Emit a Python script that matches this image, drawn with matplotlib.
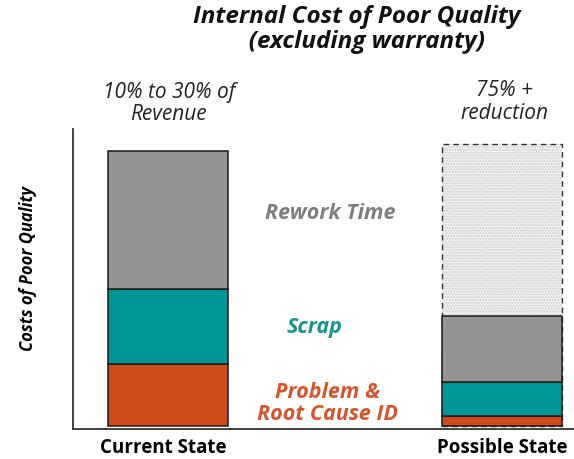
import numpy as np
import matplotlib
matplotlib.use("Agg")
import matplotlib.pyplot as plt
import matplotlib.transforms as mtransforms

plt.rcParams['font.family'] = ['Open Sans', 'DejaVu Sans']

# cost buckets, bottom to top
states = ["Current State", "Possible State"]
segments = ["Problem &\nRoot Cause ID", "Scrap", "Rework Time"]
current = [22.5, 27.5, 50.0]
possible = [3.6, 12.4, 24.0]
possible_outline = 102.5
colors = ["#d04b1c", "#009696", "#959595"]
label_colors = ["#d4552c", "#16948f", "#7f7f7f"]
notes = ["10% to 30% of\nRevenue", "75% +\nreduction"]

fig = plt.figure(figsize=(5.74, 4.6), dpi=100)
ax = fig.add_axes([0.127, 0.065, 0.873, 0.652])

x = np.arange(len(states))
width = 0.36

# dotted placeholder showing the old total on the right
ax.bar(x[1], possible_outline, width, color="#f2f2f2", edgecolor="#cfcfcf",
       hatch="......", linewidth=0, zorder=1)
ax.bar(x[1], possible_outline, width, fill=False, edgecolor="#333333",
       linestyle=(0, (4, 3)), linewidth=1.0, zorder=2)

vals = np.array([current, possible])
bottom = np.zeros(len(states))
for i in range(len(segments)):
    ax.bar(x, vals[:, i], width, bottom=bottom, color=colors[i],
           edgecolor="#1a1a1a", linewidth=1.1, zorder=3)
    bottom += vals[:, i]

ax.set_xlim(-0.286, 1.216)
ax.set_ylim(-1.1, 108)
for s in ["top", "right"]:
    ax.spines[s].set_visible(False)
for s in ["left", "bottom"]:
    ax.spines[s].set_color("#333333")
    ax.spines[s].set_linewidth(1.3)
ax.set_yticks([])
ax.set_xticks(x)
ax.set_xticklabels(states, fontsize=13.5, fontweight="bold")
ax.tick_params(axis="x", length=0, pad=6)
# nudge the left label a little to the left
shift = mtransforms.ScaledTranslation(-5 / 100, 0, fig.dpi_scale_trans)
lbl = ax.get_xticklabels()[0]
lbl.set_transform(lbl.get_transform() + shift)

# segment labels between the two bars
seg_style = dict(fontsize=15.5, fontweight="bold", fontstyle="italic",
                 ha="center", va="center")
ax.text(0.484, 77.8, segments[2], color=label_colors[2], **seg_style)
ax.text(0.439, 36.4, segments[1], color=label_colors[1], **seg_style)
ax.text(0.478, 8.5, segments[0], color=label_colors[0], linespacing=1.05,
        **seg_style)

# notes above each bar
fig.text(0.294, 0.775, notes[0], fontsize=15, fontstyle="italic",
         ha="center", va="center", linespacing=1.1, color="#222222")
fig.text(0.878, 0.778, notes[1], fontsize=15, fontstyle="italic",
         ha="center", va="center", linespacing=1.1, color="#222222")

fig.text(0.622, 0.935, "Internal Cost of Poor Quality\n   (excluding warranty)",
         fontsize=17.5, fontweight="bold", fontstyle="italic", ha="center",
         va="center", linespacing=1.05, color="#111111")

fig.text(0.049, 0.417, "Costs of Poor Quality", rotation=90, fontsize=12,
         fontweight="bold", fontstyle="italic", ha="center", va="center")

fig.savefig("out.png", dpi=100)
